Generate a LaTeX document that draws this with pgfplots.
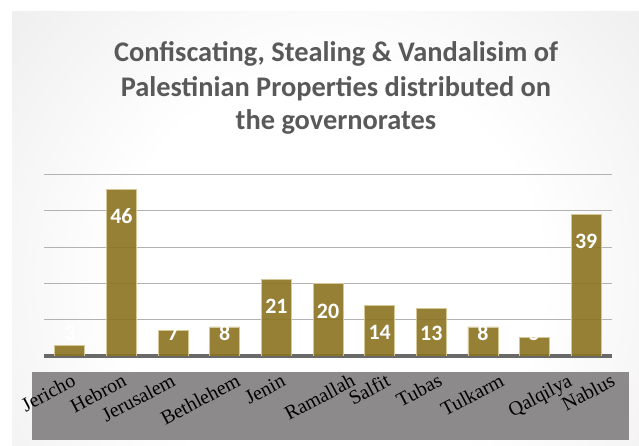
\documentclass[border=0pt]{standalone}
\usepackage{pgfplots}
\pgfplotsset{compat=1.18}
\usepackage{fontspec}
\setmainfont{Liberation Serif}
\newfontfamily\carlito{Carlito}

\definecolor{barcol}{RGB}{139,115,33}
\definecolor{baredge}{RGB}{214,200,150}
\definecolor{titlecol}{RGB}{89,89,89}
\definecolor{gridcol}{RGB}{178,178,178}
\definecolor{basecol}{RGB}{105,105,105}
\definecolor{bandcol}{RGB}{140,138,139}

% circular gradient behind the chart
\pgfdeclareradialshading{chartbg}{\pgfpoint{0bp}{0bp}}{color(0bp)=(white); color(12bp)=(white); color(23bp)=(black!6); color(30.5bp)=(black!10); color(36bp)=(black!17); color(47bp)=(black!23); color(50bp)=(black!24)}

\begin{document}
\begin{tikzpicture}
\useasboundingbox (0bp,0bp) rectangle (639bp,446bp);
\fill[white] (0bp,0bp) rectangle (639bp,446bp);
\begin{scope}
  \clip (12bp,0bp) rectangle (639bp,434bp);
  \shade[shading=chartbg] (-110bp,-274bp) rectangle (770bp,606bp);
\end{scope}
\fill[bandcol] (32bp,6bp) rectangle (629bp,74bp);

\node[font=\carlito\bfseries\fontsize{28.5}{34}\selectfont, text=titlecol, anchor=base] at (336bp,384bp) {Confiscating, Stealing \& Vandalisim of};
\node[font=\carlito\bfseries\fontsize{28.5}{34}\selectfont, text=titlecol, anchor=base] at (336bp,349bp) {Palestinian Properties distributed on};
\node[font=\carlito\bfseries\fontsize{28.5}{34}\selectfont, text=titlecol, anchor=base] at (336bp,316bp) {the governorates};

\begin{axis}[
  at={(44bp,90bp)}, anchor=south west,
  scale only axis, width=568bp, height=181.5bp,
  xmin=-0.5, xmax=10.5, ymin=0, ymax=50,
  axis x line*=bottom,
  x axis line style={line width=3bp, basecol},
  y axis line style={draw=none},
  ytick={10,20,30,40,50}, yticklabels={},
  major tick length=0pt,
  ymajorgrids, grid style={gridcol, line width=1.2bp},
  xtick={-0.055,0.931,1.879,3.136,4.007,5.361,6.038,7.044,8.243,9.558,10.390},
  xticklabels={Jericho,Hebron,Jerusalem,Bethlehem,Jenin,Ramallah,Salfit,Tubas,Tulkarm,Qalqilya,Nablus},
  xticklabel style={font=\fontsize{20}{22}\selectfont, text=black, xshift=10bp, rotate=28, anchor=base east, inner sep=0pt},
  xticklabel shift=29bp,
]
\addplot[ybar, bar width=30bp, fill=barcol, fill opacity=0.9, draw=baredge, line width=0.8bp] coordinates {
  (0,3) (1,46) (2,7) (3,8) (4,21) (5,20) (6,14) (7,13) (8,8) (9,5) (10,39)
};
\addplot[draw=none, point meta=explicit,
  nodes near coords={\pgfmathprintnumber[assume math mode=true]{\pgfplotspointmeta}},
  nodes near coords align=center,
  every node near coord/.append style={font=\carlito\bfseries\fontsize{22}{24}\selectfont, text=white}] coordinates {
  (0,6.3)[3] (1,38.6)[46] (2,6.3)[7] (3,6.3)[8] (4,13.6)[21] (5,12.3)[20]
  (6,6.5)[14] (7,6.3)[13] (8,6.3)[8] (9,6.3)[5] (10,31.6)[39]
};
\end{axis}
\end{tikzpicture}
\end{document}
